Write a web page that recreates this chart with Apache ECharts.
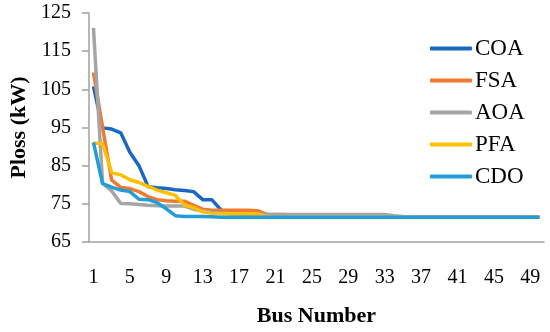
<!DOCTYPE html>
<html>
<head>
<meta charset="utf-8">
<script src="https://cdn.jsdelivr.net/npm/echarts@6/dist/echarts.min.js"></script>
<style>
  html, body { margin: 0; padding: 0; background: #ffffff; }
  #chart { width: 550px; height: 332px; }
</style>
</head>
<body>
<div id="chart"></div>
<script>
// ---- Data ----
const busNumbers = Array.from({ length: 50 }, (_, i) => String(i + 1));

const seriesNames = ["COA", "FSA", "AOA", "PFA", "CDO"];

const coa = [105.8, 94.9, 94.6, 93.6, 88.5, 85.0, 79.5, 79.2, 79.0, 78.7,
             78.5, 78.2, 76.1, 76.1, 73.4, 72.6, 72.3, 72.2, 72.2, 72.0,
             71.5, 71.5, 71.5, 71.5, 71.5, 71.5, 71.5, 71.5, 71.5, 71.5,
             71.5, 71.5, 71.5, 71.5, 71.5, 71.5, 71.5, 71.5, 71.5, 71.5,
             71.5, 71.5, 71.5, 71.5, 71.5, 71.5, 71.5, 71.5, 71.5, 71.5];

const fsa = [109.4, 95.0, 81.2, 79.3, 79.0, 78.2, 76.9, 76.1, 75.8, 75.7,
             75.7, 74.6, 73.6, 73.3, 73.3, 73.3, 73.3, 73.3, 73.2, 72.3,
             72.2, 72.2, 71.5, 71.5, 71.5, 71.5, 71.5, 71.5, 71.5, 71.5,
             71.5, 71.5, 71.5, 71.5, 71.5, 71.5, 71.5, 71.5, 71.5, 71.5,
             71.5, 71.5, 71.5, 71.5, 71.5, 71.5, 71.5, 71.5, 71.5, 71.5];

const aoa = [121.1, 80.4, 78.4, 75.1, 75.0, 74.8, 74.6, 74.5, 74.4, 74.4,
             74.4, 73.6, 73.1, 72.8, 72.6, 72.4, 72.2, 72.2, 72.2, 72.2,
             72.2, 72.2, 72.2, 72.2, 72.2, 72.2, 72.2, 72.2, 72.2, 72.2,
             72.2, 72.2, 72.2, 71.9, 71.7, 71.6, 71.5, 71.5, 71.5, 71.5,
             71.5, 71.5, 71.5, 71.5, 71.5, 71.5, 71.5, 71.5, 71.5, 71.5];

const pfa = [90.9, 90.8, 83.2, 82.6, 81.3, 80.6, 79.6, 78.6, 77.9, 77.2,
             74.7, 74.0, 72.9, 72.5, 72.4, 72.4, 72.4, 72.4, 72.4, 71.6,
             71.5, 71.5, 71.5, 71.5, 71.5, 71.5, 71.5, 71.5, 71.5, 71.5,
             71.5, 71.5, 71.5, 71.5, 71.5, 71.5, 71.5, 71.5, 71.5, 71.5,
             71.5, 71.5, 71.5, 71.5, 71.5, 71.5, 71.5, 71.5, 71.5, 71.5];

const cdo = [91.1, 80.3, 79.4, 78.6, 78.2, 76.2, 76.1, 75.3, 73.7, 71.9,
             71.7, 71.7, 71.7, 71.6, 71.5, 71.5, 71.5, 71.5, 71.5, 71.5,
             71.5, 71.5, 71.5, 71.5, 71.5, 71.5, 71.5, 71.5, 71.5, 71.5,
             71.5, 71.5, 71.5, 71.5, 71.5, 71.5, 71.5, 71.5, 71.5, 71.5,
             71.5, 71.5, 71.5, 71.5, 71.5, 71.5, 71.5, 71.5, 71.5, 71.5];

const yMin = 65, yMax = 125, yStep = 10;
const xAxisTitle = "Bus Number";
const yAxisTitle = "Ploss (kW)";

// ---- Styling ----
const colors = ["#1a67c4", "#f07b30", "#a5a5a5", "#ffc000", "#229dda"];
const seriesValues = [coa, fsa, aoa, pfa, cdo];
const FONT = "Liberation Serif";

const chart = echarts.init(document.getElementById("chart"), null, { renderer: "canvas" });

chart.setOption({
  animation: false,
  backgroundColor: "#ffffff",
  grid: { left: 85, right: 6, top: 13, bottom: 79, containLabel: false },
  legend: {
    orient: "vertical",
    left: 425,
    top: 32,
    icon: "roundRect",
    itemWidth: 42,
    itemHeight: 4,
    itemGap: 9,
    data: seriesNames,
    textStyle: { fontFamily: FONT, fontSize: 23, color: "#000", lineHeight: 22, padding: [0, 0, 0, -2] }
  },
  xAxis: {
    type: "category",
    data: busNumbers,
    boundaryGap: true,
    name: xAxisTitle,
    nameLocation: "middle",
    nameGap: 63,
    nameTextStyle: { fontFamily: FONT, fontSize: 22, fontWeight: "bold", color: "#000" },
    axisLine: { lineStyle: { color: "#a0a0a0", width: 1.5 } },
    axisTick: { show: false },
    axisLabel: { interval: 3, margin: 26, fontFamily: FONT, fontSize: 20, color: "#000" },
    splitLine: { show: false }
  },
  yAxis: {
    type: "value",
    min: yMin,
    max: yMax,
    interval: yStep,
    name: yAxisTitle,
    nameLocation: "middle",
    nameRotate: 90,
    nameGap: 34,
    nameTextStyle: { fontFamily: FONT, fontSize: 22, fontWeight: "bold", color: "#000" },
    axisLine: { show: true, lineStyle: { color: "#a0a0a0", width: 1.5 } },
    axisTick: { show: true, length: 7, inside: false, lineStyle: { color: "#a0a0a0", width: 1.5 } },
    axisLabel: { margin: 18, fontFamily: FONT, fontSize: 20, color: "#000" },
    splitLine: { show: false }
  },
  series: seriesNames.map((name, i) => ({
    name: name,
    type: "line",
    data: seriesValues[i],
    symbol: "none",
    showSymbol: false,
    lineStyle: { color: colors[i], width: 3.5 },
    itemStyle: { color: colors[i] },
    z: 2 + i
  }))
});
</script>
</body>
</html>
